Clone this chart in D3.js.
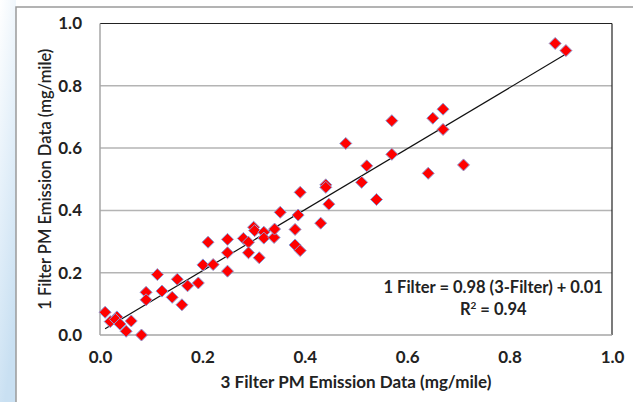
<!DOCTYPE html>
<html>
<head>
<meta charset="utf-8">
<script src="https://cdn.jsdelivr.net/npm/d3@7"></script>
<style>
  body { margin: 0; background: #fff; }
  text { font-family: Lato, "Open Sans", sans-serif; fill: #222; }
</style>
</head>
<body>
<div id="chart"></div>
<script>
// values
var filter3 = [0.010, 0.020, 0.033, 0.030, 0.039, 0.061, 0.051, 0.081, 0.090, 0.090,
    0.112, 0.121, 0.141, 0.151, 0.160, 0.171, 0.192, 0.201, 0.211, 0.221,
    0.249, 0.249, 0.249, 0.280, 0.290, 0.290, 0.300, 0.302, 0.311, 0.320,
    0.320, 0.340, 0.341, 0.352, 0.381, 0.381, 0.391, 0.387, 0.391, 0.431,
    0.441, 0.441, 0.447, 0.480, 0.511, 0.521, 0.540, 0.570, 0.570, 0.641,
    0.650, 0.670, 0.670, 0.710, 0.889, 0.910];
var filter1 = [0.073, 0.043, 0.058, 0.050, 0.035, 0.045, 0.012, 0.000, 0.137, 0.113,
    0.194, 0.141, 0.121, 0.179, 0.097, 0.158, 0.167, 0.225, 0.298, 0.226,
    0.307, 0.264, 0.205, 0.310, 0.298, 0.264, 0.346, 0.335, 0.248, 0.330,
    0.311, 0.313, 0.340, 0.394, 0.339, 0.289, 0.271, 0.385, 0.458, 0.359,
    0.482, 0.474, 0.420, 0.615, 0.490, 0.543, 0.435, 0.688, 0.580, 0.519,
    0.696, 0.725, 0.660, 0.546, 0.936, 0.913];
var tickValues = [0, 0.2, 0.4, 0.6, 0.8, 1.0];
var slope = 0.98, intercept = 0.01;
var equationLabel = "1 Filter = 0.98 (3-Filter) + 0.01";
var xTitle = "3 Filter PM Emission Data (mg/mile)";
var yTitle = "1 Filter PM Emission Data (mg/mile)";

var W = 633, H = 402;
var margin = { top: 23.5, left: 100 },
    width = 512,
    height = 311.5;

var svg = d3.select("#chart").append("svg")
    .attr("width", W)
    .attr("height", H);

// slide background strip on the left
var grad = svg.append("defs").append("linearGradient")
    .attr("id", "bg").attr("x1", 0).attr("y1", 0).attr("x2", 0.3).attr("y2", 1);
grad.append("stop").attr("offset", "0%").attr("stop-color", "#ffffff");
grad.append("stop").attr("offset", "45%").attr("stop-color", "#e6f1fa");
grad.append("stop").attr("offset", "100%").attr("stop-color", "#c9e0f2");
svg.append("rect").attr("x", 0).attr("y", 0).attr("width", 16).attr("height", H)
    .attr("fill", "url(#bg)");
svg.append("path").attr("d", "M16," + H + "V7H" + W)
    .attr("fill", "none").attr("stroke", "#9a9a9a").attr("stroke-width", 1.5);

var g = svg.append("g")
    .attr("transform", "translate(" + margin.left + "," + margin.top + ")");

var x = d3.scaleLinear().domain([0, 1]).range([0, width]);
var y = d3.scaleLinear().domain([0, 1]).range([height, 0]);

// gridlines
g.selectAll(".grid")
    .data(tickValues.filter(function (t) { return t > 0 && t < 1; }))
    .enter().append("line")
    .attr("x1", 0).attr("x2", width)
    .attr("y1", function (d) { return y(d); })
    .attr("y2", function (d) { return y(d); })
    .attr("stroke", "#b4b4b4").attr("stroke-width", 1.5);

// plot frame
g.append("line").attr("x1", 0).attr("x2", width).attr("y1", y(1)).attr("y2", y(1))
    .attr("stroke", "#222").attr("stroke-width", 1.2);
g.append("line").attr("x1", x(1)).attr("x2", x(1)).attr("y1", y(1)).attr("y2", y(0))
    .attr("stroke", "#222").attr("stroke-width", 1.2);
g.append("line").attr("x1", 0).attr("x2", width).attr("y1", y(0)).attr("y2", y(0))
    .attr("stroke", "#a6a6a6").attr("stroke-width", 1.5);
g.append("line").attr("x1", 0).attr("x2", 0).attr("y1", y(1)).attr("y2", y(0))
    .attr("stroke", "#a6a6a6").attr("stroke-width", 1.5);

// axes (labels only)
var xAxis = g.append("g")
    .attr("transform", "translate(0," + height + ")")
    .call(d3.axisBottom(x).tickValues(tickValues).tickFormat(d3.format(".1f")).tickSize(0).tickPadding(16));
var yAxis = g.append("g")
    .call(d3.axisLeft(y).tickValues(tickValues).tickFormat(d3.format(".1f")).tickSize(0).tickPadding(18));
[xAxis, yAxis].forEach(function (a) {
    a.select(".domain").remove();
    a.selectAll("text")
        .style("font-family", "Lato, sans-serif")
        .style("font-size", "17px")
        .style("font-weight", "bold")
        .attr("fill", "#222");
});

// trend line
var xs = d3.extent(filter3);
var fit = d3.line()
    .x(function (d) { return x(d); })
    .y(function (d) { return y(slope * d + intercept); });
g.append("path")
    .datum(xs)
    .attr("d", fit)
    .attr("fill", "none")
    .attr("stroke", "#111")
    .attr("stroke-width", 1.2);

// points
var pts = filter3.map(function (v, i) { return { x: v, y: filter1[i] }; });
g.selectAll(".pt")
    .data(pts)
    .enter().append("path")
    .attr("class", "pt")
    .attr("d", "M0,-6L6,0L0,6L-6,0Z")
    .attr("transform", function (d) { return "translate(" + x(d.x) + "," + y(d.y) + ")"; })
    .attr("fill", "#ff0000")
    .attr("stroke", "#8c9bd6")
    .attr("stroke-width", 1);

// equation
g.append("text")
    .attr("x", x(0.768)).attr("y", 293 - margin.top)
    .attr("text-anchor", "middle")
    .style("font-size", "16.5px").style("font-weight", "bold")
    .text(equationLabel);
var r2 = g.append("text")
    .attr("x", x(0.768)).attr("y", 315 - margin.top)
    .attr("text-anchor", "middle")
    .style("font-size", "16.5px").style("font-weight", "bold");
r2.append("tspan").text("R");
r2.append("tspan").attr("dy", -6).style("font-size", "10px").text("2");
r2.append("tspan").attr("dy", 6).text(" = 0.94");

// axis titles
svg.append("text")
    .attr("x", 356).attr("y", 388)
    .attr("text-anchor", "middle")
    .style("font-size", "17px").style("font-weight", "bold")
    .text(xTitle);
svg.append("text")
    .attr("transform", "translate(51," + (margin.top + height / 2) + ") rotate(-90)")
    .attr("text-anchor", "middle")
    .style("font-size", "16.5px").style("font-weight", "600")
    .text(yTitle);
</script>
</body>
</html>
